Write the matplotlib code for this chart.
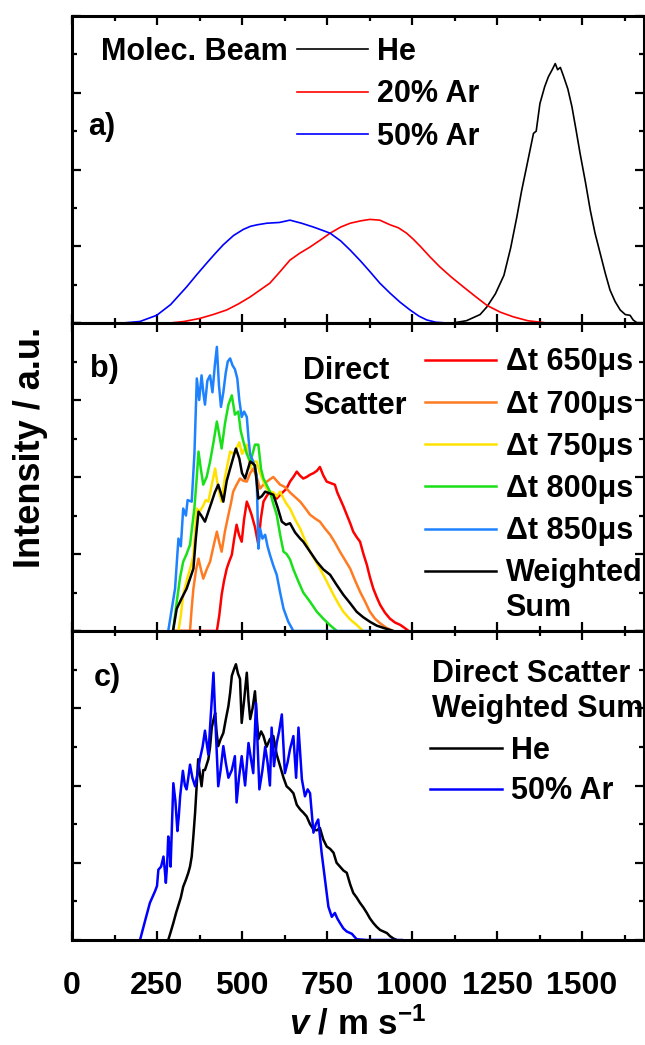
import matplotlib
matplotlib.use('Agg')
import matplotlib.pyplot as plt
from matplotlib.ticker import MultipleLocator

plt.rcParams['font.family'] = ['Liberation Sans', 'DejaVu Sans']
plt.rcParams['font.weight'] = 'bold'
plt.rcParams['mathtext.fontset'] = 'custom'
plt.rcParams['mathtext.rm'] = 'Liberation Sans:bold'
plt.rcParams['mathtext.it'] = 'Liberation Sans:italic:bold'
plt.rcParams['mathtext.bf'] = 'Liberation Sans:bold'

# ---- a) molecular beam velocity distributions ----
he_v = [1120, 1160, 1200, 1220, 1245, 1270, 1290, 1308, 1322, 1337, 1357, 1365, 1376, 1390,
        1401, 1412, 1421, 1428, 1436, 1445, 1458, 1470, 1482, 1494, 1510, 1524, 1538, 1553,
        1568, 1582, 1597, 1612, 1627, 1641, 1650, 1662, 1680]
he_i = [0.0, 0.03, 0.11, 0.21, 0.38, 0.62, 0.98, 1.38, 1.72, 2.04, 2.47, 2.50, 2.86, 3.08,
        3.21, 3.30, 3.38, 3.30, 3.33, 3.22, 3.05, 2.82, 2.52, 2.21, 1.83, 1.47, 1.17, 0.91,
        0.65, 0.43, 0.28, 0.17, 0.11, 0.10, 0.04, 0.0, 0.0]

ar20_v = [288, 330, 376, 415, 455, 490, 524, 553, 582, 612, 641, 670, 700, 730, 759, 790,
          818, 848, 876, 905, 935, 960, 984, 1004, 1024, 1053, 1082, 1115, 1151, 1185, 1220,
          1260, 1298, 1340, 1396, 1660]
ar20_i = [0.0, 0.02, 0.06, 0.11, 0.17, 0.25, 0.34, 0.43, 0.52, 0.67, 0.82, 0.91, 0.99, 1.08,
          1.17, 1.25, 1.30, 1.33, 1.35, 1.34, 1.28, 1.24, 1.17, 1.09, 1.00, 0.86, 0.73, 0.60,
          0.47, 0.35, 0.23, 0.14, 0.08, 0.03, 0.0, 0.0]

ar50_v = [150, 200, 249, 290, 337, 365, 396, 420, 445, 475, 504, 525, 545, 573, 610, 641, 675,
          710, 735, 759, 790, 818, 848, 876, 905, 935, 965, 994, 1020, 1043, 1070, 1102, 1660]
ar50_i = [0.0, 0.02, 0.10, 0.24, 0.47, 0.62, 0.78, 0.90, 1.02, 1.14, 1.22, 1.26, 1.28, 1.30,
          1.31, 1.34, 1.30, 1.25, 1.21, 1.17, 1.07, 0.95, 0.81, 0.67, 0.52, 0.39, 0.27, 0.17,
          0.09, 0.04, 0.01, 0.0, 0.0]

# ---- b) direct scatter at different delays ----
t850_v = [283, 303, 313, 320, 327, 335, 340, 352, 360, 367, 374, 381, 386, 391, 398, 406, 413,
          420, 426, 432, 438, 445, 452, 458, 465, 472, 479, 486, 492, 499, 506, 514, 519, 524,
          533, 543, 548, 553, 560, 568, 575, 582, 592, 602, 612, 622, 636, 651, 900]
t850_i = [0.0, 0.55, 1.20, 1.10, 1.59, 1.50, 1.70, 1.68, 2.30, 3.28, 3.00, 3.32, 3.10, 2.94,
          3.25, 3.32, 3.10, 3.45, 3.69, 3.20, 2.91, 3.10, 3.35, 3.50, 3.54, 3.45, 3.40, 3.28,
          3.00, 2.78, 2.85, 2.78, 2.50, 2.29, 2.20, 2.03, 1.07, 1.33, 1.20, 1.25, 1.10, 0.99,
          0.85, 0.73, 0.50, 0.29, 0.12, 0.0, 0.0]

t800_v = [297, 308, 318, 327, 337, 347, 360, 367, 372, 379, 386, 396, 406, 416, 426, 433, 440,
          450, 460, 470, 479, 489, 496, 504, 514, 524, 531, 538, 548, 556, 563, 572, 582, 592,
          602, 612, 622, 631, 641, 651, 666, 680, 700, 720, 739, 760, 779]
t800_i = [0.0, 0.38, 0.70, 0.90, 1.00, 1.12, 1.60, 2.00, 2.33, 2.10, 1.90, 2.00, 2.20, 2.45,
          2.72, 2.55, 2.37, 2.70, 2.94, 3.06, 2.81, 2.85, 2.60, 2.46, 2.30, 2.20, 2.30, 2.42,
          2.42, 2.10, 1.98, 1.90, 1.81, 1.65, 1.51, 1.25, 1.03, 1.00, 0.93, 0.80, 0.64, 0.50,
          0.38, 0.25, 0.16, 0.07, 0.0]

t750_v = [313, 320, 327, 340, 350, 357, 367, 375, 385, 393, 401, 411, 421, 430, 440, 450, 465,
          475, 484, 492, 500, 514, 524, 533, 543, 553, 563, 572, 582, 592, 602, 612, 622, 631,
          641, 656, 671, 685, 700, 720, 739, 754, 769, 784, 798, 818, 837, 856]
t750_i = [0.0, 0.20, 0.47, 0.70, 0.85, 0.99, 1.59, 1.55, 1.62, 1.70, 1.68, 1.90, 2.11, 1.85,
          1.68, 2.00, 2.33, 2.30, 2.37, 2.45, 2.30, 2.42, 2.11, 2.20, 2.20, 2.05, 1.94, 1.85,
          1.81, 1.80, 1.75, 1.81, 1.72, 1.65, 1.59, 1.45, 1.33, 1.18, 1.03, 0.88, 0.73, 0.60,
          0.47, 0.35, 0.25, 0.15, 0.08, 0.0]

t700_v = [297, 347, 352, 357, 365, 372, 379, 386, 396, 406, 416, 426, 433, 440, 450, 460, 467,
          474, 484, 494, 504, 514, 524, 533, 543, 553, 563, 573, 582, 592, 602, 612, 622, 631,
          641, 656, 671, 685, 700, 715, 729, 744, 759, 773, 788, 803, 818, 832, 847, 862, 876,
          891, 906, 925, 945]
t700_i = [0.0, 0.0, 0.30, 0.55, 0.80, 0.94, 0.80, 0.68, 0.80, 0.90, 1.10, 1.29, 1.15, 1.03,
          1.30, 1.51, 1.65, 1.81, 1.90, 1.98, 1.95, 1.94, 2.05, 2.11, 2.00, 1.85, 1.90, 1.94,
          1.97, 2.00, 1.95, 1.90, 1.88, 1.85, 1.80, 1.74, 1.68, 1.60, 1.51, 1.46, 1.42, 1.33,
          1.25, 1.15, 1.03, 0.92, 0.81, 0.66, 0.51, 0.38, 0.25, 0.16, 0.10, 0.04, 0.0]

t650_v = [297, 426, 433, 440, 447, 455, 462, 470, 477, 484, 491, 499, 506, 514, 521, 528, 538,
          548, 555, 563, 572, 582, 592, 602, 612, 622, 631, 641, 651, 661, 670, 680, 690, 700,
          710, 720, 729, 739, 749, 761, 773, 780, 788, 798, 808, 818, 827, 837, 847, 857, 867,
          876, 886, 896, 906, 920, 935, 950, 965, 978, 990]
t650_i = [0.0, 0.0, 0.20, 0.47, 0.65, 0.81, 0.90, 0.99, 1.20, 1.38, 1.25, 1.16, 1.45, 1.68,
          1.60, 1.51, 1.35, 1.12, 1.45, 1.68, 1.75, 1.81, 1.78, 1.72, 1.77, 1.81, 1.85, 1.94,
          2.00, 2.07, 2.02, 1.98, 2.00, 2.03, 2.05, 2.08, 2.13, 2.02, 1.94, 1.92, 1.90, 1.80,
          1.72, 1.62, 1.51, 1.40, 1.29, 1.22, 1.16, 1.00, 0.86, 0.70, 0.55, 0.44, 0.34, 0.24,
          0.16, 0.11, 0.08, 0.04, 0.0]

wsum_v = [297, 308, 322, 337, 347, 357, 364, 372, 380, 391, 401, 411, 420, 430, 437, 445, 455,
          465, 474, 482, 492, 500, 509, 517, 524, 531, 538, 548, 558, 568, 580, 592, 605, 617,
          629, 641, 656, 671, 680, 700, 720, 739, 759, 778, 798, 818, 837, 856, 876, 896, 916,
          945]
wsum_i = [0.0, 0.29, 0.42, 0.55, 0.68, 0.81, 1.20, 1.55, 1.50, 1.42, 1.55, 1.68, 1.80, 1.90,
          1.80, 1.68, 1.95, 2.11, 2.25, 2.37, 2.24, 2.05, 1.98, 2.10, 2.20, 2.18, 2.15, 1.72,
          1.75, 1.81, 1.79, 1.77, 1.60, 1.42, 1.38, 1.40, 1.28, 1.20, 1.16, 1.03, 0.90, 0.80,
          0.73, 0.60, 0.47, 0.36, 0.25, 0.18, 0.12, 0.07, 0.04, 0.0]

# ---- c) weighted sums for He and 50% Ar beams ----
c_he_v = [283, 290, 298, 306, 313, 320, 327, 335, 342, 347, 352, 357, 362, 366, 371, 376, 381,
          386, 391, 401, 406, 411, 416, 421, 425, 430, 437, 445, 452, 460, 465, 470, 476, 482,
          488, 494, 499, 506, 514, 519, 524, 531, 538, 543, 548, 556, 563, 572, 582, 592, 602,
          612, 622, 631, 641, 651, 661, 671, 680, 690, 700, 710, 720, 729, 739, 749, 759, 769,
          778, 788, 798, 808, 818, 827, 837, 847, 857, 867, 876, 886, 896, 906, 916, 926, 935,
          945, 955]
c_he_i = [0.0, 0.10, 0.22, 0.35, 0.45, 0.55, 0.69, 0.78, 0.87, 0.95, 1.08, 1.35, 1.65, 1.95,
          2.34, 2.15, 1.99, 2.20, 2.20, 2.34, 2.50, 2.75, 2.85, 2.94, 2.70, 2.51, 2.60, 2.68,
          2.85, 3.03, 3.20, 3.42, 3.50, 3.57, 3.45, 3.38, 2.81, 3.10, 3.46, 3.10, 2.86, 3.00,
          3.22, 2.90, 2.60, 2.70, 2.64, 2.50, 2.60, 2.64, 2.40, 2.25, 2.10, 1.99, 1.95, 1.90,
          1.75, 1.69, 1.65, 1.60, 1.50, 1.43, 1.42, 1.45, 1.30, 1.21, 1.18, 1.13, 1.00, 0.95,
          0.90, 0.87, 0.72, 0.61, 0.55, 0.48, 0.42, 0.35, 0.28, 0.22, 0.17, 0.13, 0.11, 0.09,
          0.05, 0.02, 0.0]

c_ar_v = [200, 215, 229, 237, 244, 250, 254, 262, 269, 273, 276, 280, 283, 287, 290, 294, 298,
          304, 310, 314, 318, 326, 332, 337, 342, 347, 354, 362, 369, 376, 384, 391, 396, 401,
          408, 416, 422, 430, 437, 445, 452, 460, 470, 479, 484, 491, 499, 509, 519, 526, 533,
          541, 546, 551, 560, 568, 575, 582, 587, 594, 602, 609, 617, 626, 634, 641, 651, 659,
          666, 676, 685, 693, 700, 710, 717, 724, 734, 744, 754, 764, 773, 780, 788, 798, 808,
          823, 837, 867, 970]
c_ar_i = [0.0, 0.25, 0.48, 0.56, 0.63, 0.70, 0.91, 0.95, 1.08, 0.90, 0.74, 1.00, 1.34, 1.20,
          0.95, 1.50, 2.03, 1.80, 1.41, 1.60, 1.86, 2.19, 2.00, 1.95, 2.10, 2.27, 2.10, 1.99,
          2.15, 2.34, 2.50, 2.71, 2.55, 2.40, 2.90, 3.46, 2.80, 1.99, 2.20, 2.51, 2.30, 2.10,
          2.20, 2.38, 1.78, 2.10, 2.38, 2.00, 2.55, 2.35, 2.16, 3.07, 2.50, 1.95, 2.20, 2.50,
          2.30, 2.00, 2.75, 2.25, 2.55, 2.70, 2.92, 2.16, 2.30, 2.47, 2.64, 2.10, 2.75, 2.08,
          1.86, 1.95, 1.90, 1.39, 1.50, 1.56, 1.13, 0.78, 0.43, 0.30, 0.35, 0.28, 0.22, 0.15,
          0.11, 0.08, 0.01, 0.0, 0.0]

x_ticks = [0, 250, 500, 750, 1000, 1250, 1500]

fig = plt.figure(figsize=(6.45, 10.45), dpi=100)
L, W = 72 / 645, 572 / 645
ax_a = fig.add_axes([L, 1 - 323 / 1045, W, 307 / 1045])
ax_b = fig.add_axes([L, 1 - 631 / 1045, W, 308 / 1045])
ax_c = fig.add_axes([L, 1 - 940 / 1045, W, 309 / 1045])

for ax in (ax_a, ax_b, ax_c):
    ax.set_xlim(0, 1682)
    ax.set_ylim(0, 4)
    ax.set_xticks(x_ticks)
    ax.xaxis.set_minor_locator(MultipleLocator(125))
    ax.yaxis.set_major_locator(MultipleLocator(1))
    ax.yaxis.set_minor_locator(MultipleLocator(0.5))
    ax.tick_params(which='both', direction='in', top=True, right=True, width=1.6,
                   labelleft=False, labelbottom=False)
    ax.tick_params(which='major', length=6.5)
    ax.tick_params(which='minor', length=3.5)
    for sp in ax.spines.values():
        sp.set_linewidth(2.2)
        sp.set_zorder(5)

ax_c.tick_params(labelbottom=True, labelsize=23, pad=22)

# panel a
l_he, = ax_a.plot(he_v, he_i, color='black', lw=1.2, label='He')
l_20, = ax_a.plot(ar20_v, ar20_i, color='#ff0000', lw=1.2, label='20% Ar')
l_50, = ax_a.plot(ar50_v, ar50_i, color='#0000ff', lw=1.2, label='50% Ar')
ax_a.legend(handles=[l_he, l_20, l_50], loc='upper left', bbox_to_anchor=(0.393, 0.931),
            frameon=False, fontsize=22, handlelength=2.34, handletextpad=0.3,
            labelspacing=0.4, borderpad=0, borderaxespad=0)
ax_a.text(0.378, 0.884, 'Molec. Beam', transform=ax_a.transAxes, ha='right', va='center',
          fontsize=22)
ax_a.text(0.028, 0.638, 'a)', transform=ax_a.transAxes, ha='left', va='center', fontsize=22)

# panel b
lw_b = 1.8
l650, = ax_b.plot(t650_v, t650_i, color='#ff0000', lw=lw_b, label='Δt 650μs')
l700, = ax_b.plot(t700_v, t700_i, color='#ff7b22', lw=lw_b, label='Δt 700μs')
l750, = ax_b.plot(t750_v, t750_i, color='#ffe100', lw=lw_b, label='Δt 750μs')
l800, = ax_b.plot(t800_v, t800_i, color='#19e019', lw=lw_b, label='Δt 800μs')
l850, = ax_b.plot(t850_v, t850_i, color='#1e82ff', lw=lw_b, label='Δt 850μs')
lsum, = ax_b.plot(wsum_v, wsum_i, color='black', lw=lw_b, label='Weighted')
ax_b.legend(handles=[l650, l700, l750, l800, l850, lsum], loc='upper left',
            bbox_to_anchor=(0.617, 0.921), frameon=False, fontsize=22, handlelength=2.34,
            handletextpad=0.3, labelspacing=0.4, borderpad=0, borderaxespad=0)
ax_b.text(0.757, 1 - (608 - 323) / 308, 'Sum', transform=ax_b.transAxes, ha='left',
          va='center', fontsize=22)
ax_b.text(0.404, 1 - (388.5 - 323) / 308, 'Direct\nScatter', transform=ax_b.transAxes,
          ha='left', va='center', fontsize=22, linespacing=1.25)
ax_b.text(0.031, 0.851, 'b)', transform=ax_b.transAxes, ha='left', va='center', fontsize=22)

# panel c
lc_he, = ax_c.plot(c_he_v, c_he_i, color='black', lw=1.8, label='He')
lc_ar, = ax_c.plot(c_ar_v, c_ar_i, color='#0000ff', lw=1.8, label='50% Ar')
ax_c.legend(handles=[lc_he, lc_ar], loc='upper left', bbox_to_anchor=(0.626, 0.661),
            frameon=False, fontsize=22, handlelength=2.34, handletextpad=0.3,
            labelspacing=0.35, borderpad=0, borderaxespad=0)
ax_c.text(0.629, 0.804, 'Direct Scatter\nWeighted Sum', transform=ax_c.transAxes,
          ha='left', va='center', fontsize=22, linespacing=1.25)
ax_c.text(0.038, 0.848, 'c)', transform=ax_c.transAxes, ha='left', va='center', fontsize=22)

fig.text(31 / 645, 1 - 447 / 1045, 'Intensity / a.u.', rotation=90, ha='center',
         va='center', fontsize=26)
fig.text(358 / 645, 1 - 1024 / 1045, r'$\mathit{v}$ / m s$^{-1}$', ha='center',
         va='center', fontsize=25)

fig.savefig('out.png', dpi=100)
